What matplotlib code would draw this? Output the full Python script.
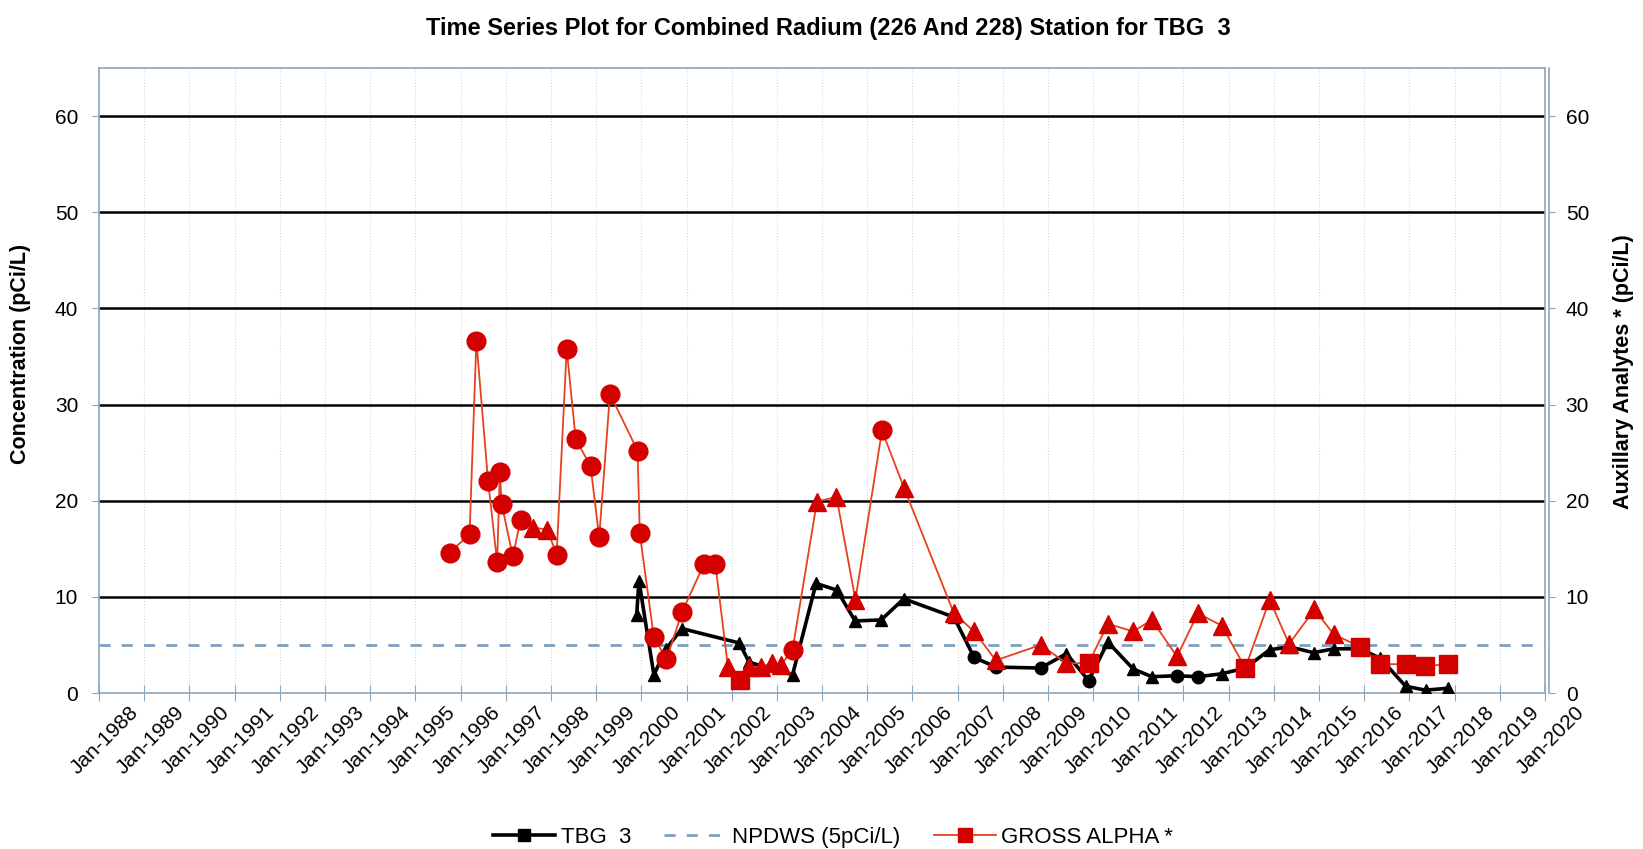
import pandas as pd
import matplotlib
matplotlib.use('Agg')
import matplotlib.pyplot as plt
import matplotlib.dates as mdates
import matplotlib.transforms as mtransforms
from matplotlib.lines import Line2D

plt.rcParams['font.family'] = ['Liberation Sans', 'DejaVu Sans']

# TBG 3 combined radium (pCi/L); marker: t = triangle, c = circle
tbg_dates = ['1999-11-25', '1999-12-13', '2000-04-12', '2000-07-20', '2000-11-25',
             '2002-03-04', '2002-05-22', '2003-05-08', '2003-11-14', '2004-05-01',
             '2004-09-24', '2005-04-23', '2005-10-23', '2006-12-02', '2007-05-15',
             '2007-11-06', '2008-11-03', '2009-05-30', '2009-11-25', '2010-04-30',
             '2010-11-21', '2011-04-20', '2011-11-10', '2012-04-27', '2012-11-06',
             '2013-05-15', '2013-11-28', '2014-05-08', '2014-11-18', '2015-04-30',
             '2015-12-02', '2016-05-11', '2016-12-02', '2017-05-11', '2017-11-10']
tbg_values = [8.1, 11.7, 1.9, 4.6, 6.7,
              5.2, 3.2, 1.9, 11.4, 10.7,
              7.5, 7.6, 9.8, 7.9, 3.7,
              2.7, 2.6, 4.1, 1.3, 5.3,
              2.5, 1.7, 1.8, 1.7, 2.0,
              2.6, 4.5, 4.8, 4.2, 4.6,
              4.6, 3.6, 0.7, 0.3, 0.5]
tbg_marks = ['t', 't', 't', 't', 't',
             't', 't', 't', 't', 't',
             't', 't', 't', 't', 'c',
             'c', 'c', 't', 'c', 't',
             't', 't', 'c', 'c', 't',
             't', 't', 't', 't', 't',
             't', 't', 't', 't', 't']

# Gross alpha (pCi/L); marker: c = circle, t = triangle, s = square
ga_dates = ['1995-10-04', '1996-03-14', '1996-05-08', '1996-08-11', '1996-10-23',
            '1996-11-14', '1996-11-28', '1997-02-27', '1997-04-30', '1997-08-11',
            '1997-12-02', '1998-02-16', '1998-05-08', '1998-07-20', '1998-11-17',
            '1999-01-26', '1999-04-23', '1999-12-02', '1999-12-20', '2000-04-12',
            '2000-07-23', '2000-11-25', '2001-05-22', '2001-08-22', '2001-12-02',
            '2002-03-07', '2002-05-22', '2002-08-25', '2002-11-21', '2003-02-02',
            '2003-05-08', '2003-11-21', '2004-04-27', '2004-09-27', '2005-04-30',
            '2005-10-26', '2006-12-02', '2007-05-15', '2007-11-06', '2008-11-03',
            '2009-05-30', '2009-11-25', '2010-04-30', '2010-11-21', '2011-04-20',
            '2011-11-10', '2012-04-27', '2012-11-06', '2013-05-15', '2013-11-28',
            '2014-05-04', '2014-11-25', '2015-04-30', '2015-12-02', '2016-05-11',
            '2016-12-02', '2017-05-04', '2017-11-10']
ga_values = [14.6, 16.5, 36.6, 22.0, 13.6,
             23.0, 19.7, 14.2, 18.0, 17.2,
             17.0, 14.4, 35.8, 26.4, 23.6,
             16.2, 31.1, 25.2, 16.6, 5.8,
             3.5, 8.4, 13.4, 13.4, 2.7,
             1.35, 2.7, 2.7, 3.1, 2.9,
             4.5, 19.9, 20.4, 9.7, 27.3,
             21.3, 8.3, 6.4, 3.4, 5.0,
             3.1, 3.1, 7.2, 6.4, 7.6,
             3.8, 8.3, 7.0, 2.6, 9.7,
             5.1, 8.7, 6.1, 4.8, 3.0,
             3.0, 2.8, 3.0]
ga_marks = ['c', 'c', 'c', 'c', 'c',
            'c', 'c', 'c', 'c', 't',
            't', 'c', 'c', 'c', 'c',
            'c', 'c', 'c', 'c', 'c',
            'c', 'c', 'c', 'c', 't',
            's', 't', 't', 't', 't',
            'c', 't', 't', 't', 'c',
            't', 't', 't', 't', 't',
            't', 's', 't', 't', 't',
            't', 't', 't', 's', 't',
            't', 't', 't', 's', 's',
            's', 's', 's']

npdws = 5
y_ticks = [0, 10, 20, 30, 40, 50, 60]

tbg = pd.DataFrame({'date': pd.to_datetime(tbg_dates), 'value': tbg_values, 'mark': tbg_marks})
ga = pd.DataFrame({'date': pd.to_datetime(ga_dates), 'value': ga_values, 'mark': ga_marks})

axis_col = '#8ea6bd'
red = '#d40000'

fig = plt.figure(figsize=(16.43, 8.49), dpi=100)
ax = fig.add_axes([0.0603, 0.1837, 0.88, 0.7363])

x0, x1 = pd.Timestamp('1988-01-01'), pd.Timestamp('2020-01-01')
ax.set_xlim(x0, x1)
ax.set_ylim(0, 65)

# grid
for y in y_ticks[1:]:
    ax.axhline(y, color='black', lw=1.8, zorder=1)
years = pd.date_range('1988-01-01', '2020-01-01', freq='YS')
for d in years[1:-1]:
    ax.axvline(d, color='#d8d8d8', lw=0.8, ls=':', zorder=0)

ax.axhline(npdws, color='#7f9fbf', lw=2, ls=(0, (4, 4)), zorder=2)

# TBG 3
ax.plot(tbg['date'], tbg['value'], color='black', lw=2.6, zorder=3)
shapes = {'t': '^', 'c': 'o', 's': 's'}
for m, grp in tbg.groupby('mark'):
    ax.plot(grp['date'], grp['value'], ls='none', marker=shapes[m], color='black',
            ms=9 if m == 'c' else 8.5, zorder=4)

# gross alpha
ax.plot(ga['date'], ga['value'], color='#e8401c', lw=1.3, zorder=5)
for m, grp in ga.groupby('mark'):
    ax.plot(grp['date'], grp['value'], ls='none', marker=shapes[m],
            color=red, ms={'c': 13.5, 't': 12.5, 's': 12.5}[m], zorder=6)

ax.xaxis.set_major_locator(mdates.YearLocator())
ax.xaxis.set_major_formatter(mdates.DateFormatter('%b-%Y'))
ax.set_yticks(y_ticks)
ax.tick_params(axis='x', direction='inout', length=12, color=axis_col, labelsize=15, pad=1)
ax.tick_params(axis='y', direction='out', length=5, color=axis_col, labelsize=15, pad=10)
# excel-style: label end sits to the right of its tick
shift = mtransforms.ScaledTranslation(0.3, 0.0, fig.dpi_scale_trans)
for lab in ax.get_xticklabels():
    lab.set_rotation(45)
    lab.set_ha('right')
    lab.set_rotation_mode('anchor')
    lab.set_transform(lab.get_transform() + shift)

for s in ax.spines.values():
    s.set_color(axis_col)
    s.set_linewidth(1.2)

ax2 = ax.twinx()
ax2.set_ylim(0, 65)
ax2.set_yticks(y_ticks)
ax2.tick_params(axis='y', direction='out', length=4, color=axis_col, labelsize=15, pad=8)
for s in ax2.spines.values():
    s.set_visible(False)
ax2.spines['right'].set_visible(True)
ax2.spines['right'].set_color(axis_col)
ax2.spines['right'].set_linewidth(1.2)
ax2.spines['right'].set_position(('outward', 3))

fig.text(0.504, 0.966, 'Time Series Plot for Combined Radium (226 And 228) Station for TBG  3',
         ha='center', va='center', fontsize=17, fontweight='bold')
fig.text(0.0125, 0.583, 'Concentration (pCi/L)', rotation=90, ha='center', va='center',
         fontsize=15.5, fontweight='bold')
fig.text(0.988, 0.562, 'Auxillary Analytes * (pCi/L)', rotation=90, ha='center', va='center',
         fontsize=15.5, fontweight='bold')

handles = [Line2D([], [], color='black', lw=2.6, marker='s', ms=9),
           Line2D([], [], color='#7f9fbf', lw=2, ls=(0, (4, 4))),
           Line2D([], [], color='#e8401c', lw=1.3, marker='s', ms=10, mfc=red, mec=red)]
fig.legend(handles, ['TBG  3', 'NPDWS (5pCi/L)', 'GROSS ALPHA *'], loc='lower center',
           bbox_to_anchor=(0.507, -0.022), ncol=3, frameon=False, fontsize=16,
           handlelength=2.8, handletextpad=0.25, columnspacing=1.5)

fig.savefig('out.png', dpi=100)
